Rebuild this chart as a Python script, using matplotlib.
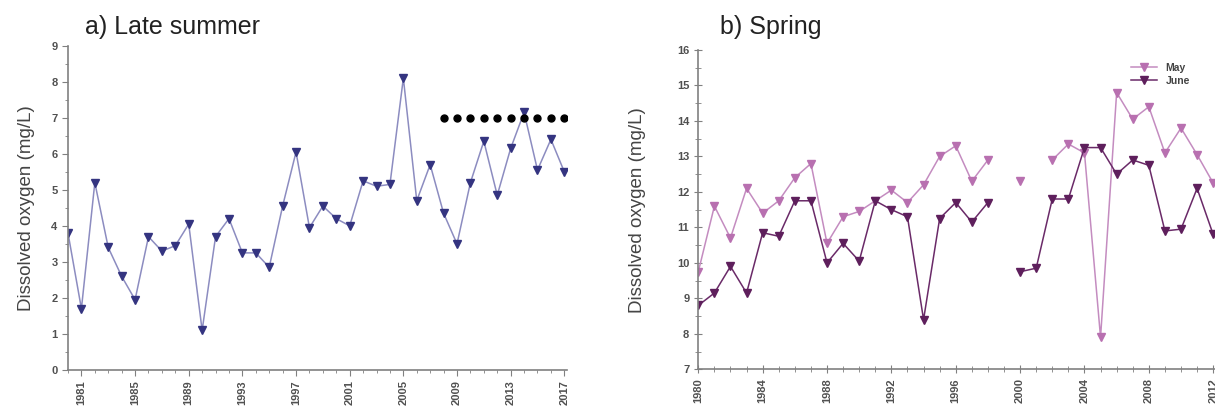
import numpy as np
import matplotlib.pyplot as plt
from matplotlib.ticker import MultipleLocator

plt.rcParams["font.family"] = ["Liberation Sans", "DejaVu Sans"]

# a) Late summer
years_a = list(range(1980, 2018))
do_a = [3.8, 1.7, 5.2, 3.4, 2.6, 1.95, 3.7, 3.3, 3.45, 4.05,
        1.1, 3.7, 4.2, 3.25, 3.25, 2.85, 4.55, 6.05, 3.95, 4.55,
        4.2, 4.0, 5.25, 5.1, 5.15, 8.1, 4.7, 5.7, 4.35, 3.5,
        5.2, 6.35, 4.85, 6.15, 7.15, 5.55, 6.4, 5.5]
thresh_years = list(range(2008, 2018))
thresh_val = 7

# b) Spring (NaN = missing)
years_b = list(range(1980, 2013))
may = [9.75, 11.6, 10.7, 12.1, 11.4, 11.75, 12.4, 12.8, 10.55, 11.3,
       11.45, 11.75, 12.05, 11.7, 12.2, 13.0, 13.3, 12.3, 12.9, np.nan,
       12.3, np.nan, 12.9, 13.35, 13.1, 7.9, 14.8, 14.05, 14.4, 13.1,
       13.8, 13.05, 12.25]
june = [8.8, 9.15, 9.9, 9.15, 10.85, 10.75, 11.75, 11.75, 10.0, 10.55,
        10.05, 11.75, 11.5, 11.3, 8.4, 11.25, 11.7, 11.15, 11.7, np.nan,
        9.75, 9.85, 11.8, 11.8, 13.25, 13.25, 12.5, 12.9, 12.75, 10.9,
        10.95, 12.1, 10.8]

fig = plt.figure(figsize=(12.15, 4.16), dpi=100)

grey = "#808080"
tick_col = "#505050"


def style_axes(ax):
    for s in ["top", "right"]:
        ax.spines[s].set_visible(False)
    for s in ["left", "bottom"]:
        ax.spines[s].set_color(grey)
        ax.spines[s].set_linewidth(1.2)
    ax.tick_params(which="both", color=grey, labelcolor=tick_col, labelsize=8)
    ax.tick_params(which="major", length=4)
    ax.tick_params(which="minor", length=2.5)
    ax.tick_params(axis="x", rotation=90)
    for lab in ax.get_xticklabels() + ax.get_yticklabels():
        lab.set_fontweight("bold")


# left panel
ax1 = fig.add_axes([68 / 1215, 1 - 370 / 416, (567 - 68) / 1215, (370 - 45.7) / 416])
ax1.plot(years_a, do_a, color="#8c8cc0", lw=1.1, marker="v", ms=5.5,
         mfc="#343480", mec="#343480")
ax1.plot(thresh_years, [thresh_val] * len(thresh_years), ls="none",
         marker="o", ms=5, color="black")
ax1.set_xlim(1980, 2017.2)
ax1.set_ylim(0, 9)
ax1.set_xticks(list(range(1981, 2018, 4)))
ax1.xaxis.set_minor_locator(MultipleLocator(1))
ax1.yaxis.set_major_locator(MultipleLocator(1))
ax1.yaxis.set_minor_locator(MultipleLocator(0.5))
style_axes(ax1)
ax1.set_ylabel("Dissolved oxygen (mg/L)", fontsize=13.5, color="#444444", labelpad=12)
fig.text(85 / 1215, 1 - 27 / 416, "a) Late summer", fontsize=18, color="#222222",
         va="center", ha="left")

# right panel (runs past the figure edge, like the original crop)
x0 = 698.3
px_per_yr = 16.09
x_end = x0 + 37.2 * px_per_yr
ax2 = fig.add_axes([x0 / 1215, 1 - 369.3 / 416, (x_end - x0) / 1215, (369.3 - 50) / 416])
ax2.plot(years_b, may, color="#c48cc0", lw=1.1, marker="v", ms=5.5,
         mfc="#b870b0", mec="#b870b0", label="May")
ax2.plot(years_b, june, color="#6a2a68", lw=1.1, marker="v", ms=5.5,
         mfc="#5e1f5c", mec="#5e1f5c", label="June")
ax2.set_xlim(1980, 2017.2)
ax2.set_ylim(7, 16)
ax2.set_xticks(list(range(1980, 2018, 4)))
ax2.xaxis.set_minor_locator(MultipleLocator(1))
ax2.yaxis.set_major_locator(MultipleLocator(1))
ax2.yaxis.set_minor_locator(MultipleLocator(0.5))
style_axes(ax2)
ax2.tick_params(which="both", direction="inout")
ax2.tick_params(which="major", length=6)
ax2.tick_params(which="minor", length=4)
ax2.set_ylabel("Dissolved oxygen (mg/L)", fontsize=13.5, color="#444444", labelpad=22)
leg = ax2.legend(loc="upper left", bbox_to_anchor=((1122 - x0) / (x_end - x0), 0.99),
                 frameon=False, fontsize=7.5, handlelength=2.5, labelspacing=0.3)
for t in leg.get_texts():
    t.set_fontweight("bold")
    t.set_color("#444444")
fig.text(720 / 1215, 1 - 27 / 416, "b) Spring", fontsize=18, color="#222222",
         va="center", ha="left")

fig.savefig("out.png", dpi=100)
